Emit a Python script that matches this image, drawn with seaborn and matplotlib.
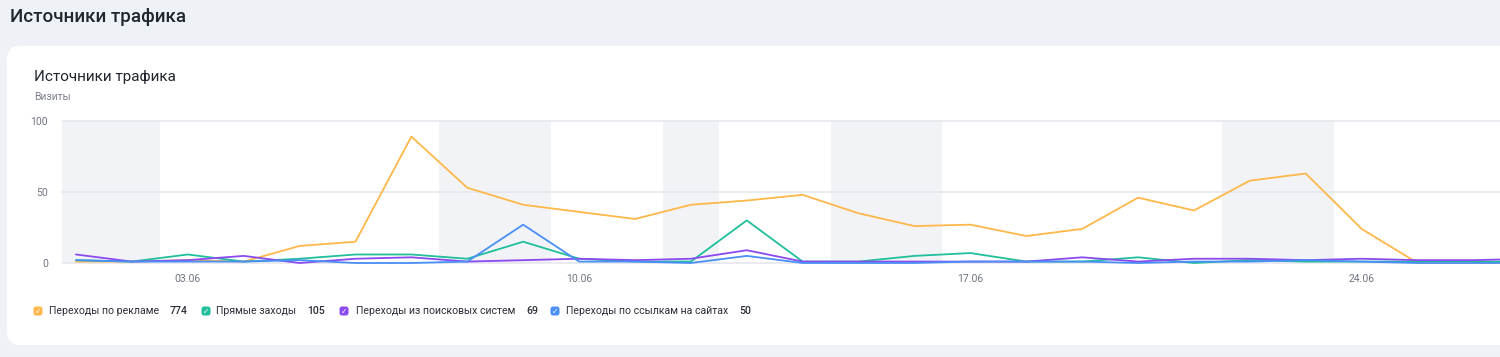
import matplotlib
matplotlib.use("Agg")
import matplotlib.pyplot as plt
from matplotlib.patches import FancyBboxPatch
import seaborn as sns
import pandas as pd
import numpy as np

# ---------------- data ----------------
dates = pd.date_range("2024-06-01", periods=27, freq="D")
ads = [1, 1, 2, 1, 12, 15, 89, 53, 41, 36, 31, 41, 44, 48, 35, 26, 27, 19, 24, 46, 37, 58, 63, 24, 0, 0, 0]
direct = [2, 1, 6, 1, 3, 6, 6, 3, 15, 3, 1, 1, 30, 1, 1, 5, 7, 1, 1, 4, 0, 2, 1, 1, 1, 1, 1]
search = [6, 1, 2, 5, 0, 3, 4, 1, 2, 3, 2, 3, 9, 1, 1, 1, 1, 1, 4, 1, 3, 3, 2, 3, 2, 2, 3]
links = [2, 1, 1, 1, 2, 0, 0, 1, 27, 1, 1, 0, 5, 0, 0, 0, 1, 1, 1, 0, 1, 1, 2, 1, 0, 0, 0]
series_names = ["Переходы по рекламе", "Прямые заходы", "Переходы из поисковых систем", "Переходы по ссылкам на сайтах"]
series_totals = [774, 105, 69, 50]
colors = ["#ffb74a", "#1fbf9b", "#8a4af0", "#4a8ff5"]
off_days = ["2024-06-01", "2024-06-02", "2024-06-08", "2024-06-09", "2024-06-12",
            "2024-06-15", "2024-06-16", "2024-06-22", "2024-06-23"]
xtick_dates = ["2024-06-03", "2024-06-10", "2024-06-17", "2024-06-24"]
yticks = [0, 50, 100]

df = pd.DataFrame({"date": list(dates) * 4,
                   "value": ads + direct + search + links,
                   "series": sum([[n] * len(dates) for n in series_names], [])})
df["day"] = (df["date"] - dates[0]).dt.days

# ---------------- style ----------------
sns.set_theme(style="white")
plt.rcParams["font.family"] = ["Roboto", "DejaVu Sans"]

W, H = 1500, 357
fig = plt.figure(figsize=(W / 100, H / 100), dpi=100)
fig.patch.set_facecolor("#eef1f6")

# card
card = FancyBboxPatch((7, 12), 1540, 299, boxstyle="round,pad=0,rounding_size=14",
                      transform=None, facecolor="white", edgecolor="none", zorder=-10)
fig.patches.append(card)

fig.text(10 / W, 1 - 17 / H, "Источники трафика", fontsize=13.5, color="#21252e",
         va="center", ha="left", fontweight="medium")
fig.text(34 / W, 1 - 77 / H, "Источники трафика", fontsize=11, color="#21252e",
         va="center", ha="left")
fig.text(34 / W, 1 - 97 / H, "Визиты", fontsize=7.5, color="#7b808c",
         va="center", ha="left")

# axes: day0 at px 76, 55.9 px/day, left edge at px 62
px_per_day = 55.9
x_left, x_right = -0.25, 26.5
ax_l = 62
ax_w = (x_right - x_left) * px_per_day
ax = fig.add_axes([ax_l / W, 94 / H, ax_w / W, 142 / H], zorder=1)
ax.set_facecolor("none")

for d in off_days:
    dd = (pd.Timestamp(d) - dates[0]).days
    ax.axvspan(dd - 0.5, dd + 0.5, color="#f2f3f7", lw=0, zorder=0)

for y in yticks:
    ax.axhline(y, color="#e6e8ef", lw=1.2, zorder=1, clip_on=False)

sns.lineplot(data=df, x="day", y="value", hue="series", palette=colors,
             hue_order=series_names, ax=ax, legend=False, linewidth=1.3,
             clip_on=False, zorder=3)

ax.set_xlim(x_left, x_right)
ax.set_ylim(0, 100)
ax.set_yticks(yticks)
ax.set_yticklabels([str(v) for v in yticks])
ax.set_xticks([(pd.Timestamp(d) - dates[0]).days for d in xtick_dates])
ax.set_xticklabels([pd.Timestamp(d).strftime("%d.%m") for d in xtick_dates])
ax.tick_params(axis="y", length=0, pad=10, labelsize=7.5, labelcolor="#6f7480")
ax.tick_params(axis="x", length=3, width=1, color="#d5d8e0", pad=5,
               labelsize=7.5, labelcolor="#6f7480", direction="out")
ax.set_xlabel("")
ax.set_ylabel("")
for s in ax.spines.values():
    s.set_visible(False)

# legend
box_x = [38, 206, 344, 555]
text_x = [49, 216, 356, 566]
ly = 311
renderer = fig.canvas.get_renderer()
for bx, tx, c, name, tot in zip(box_x, text_x, colors, series_names, series_totals):
    fig.patches.append(FancyBboxPatch((bx - 4.5, H - ly - 4.5), 9, 9,
                                      boxstyle="round,pad=0,rounding_size=2.5",
                                      transform=None, facecolor=c, edgecolor="none"))
    fig.text(bx / W, 1 - (ly + 0.5) / H, "✓", fontsize=5.5, color="white",
             ha="center", va="center", family=["DejaVu Sans"], fontweight="bold")
    t = fig.text(tx / W, 1 - ly / H, name, fontsize=7.6, color="#2b2f38", ha="left", va="center")
    x_end = t.get_window_extent(renderer).x1
    fig.text((x_end + 11) / W, 1 - ly / H, str(tot), fontsize=7.6, color="#2b2f38", ha="left",
             va="center", fontweight="medium")

fig.savefig("out.png", dpi=100, facecolor=fig.get_facecolor())
